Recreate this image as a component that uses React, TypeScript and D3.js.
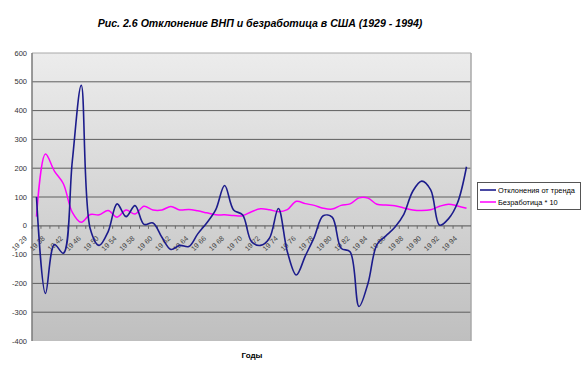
import React from 'react';
import * as d3 from 'd3';

// годы (ранние годы идут с пропусками, с 1958 подряд)
const years = [
  1929, 1933, 1938, 1940, 1942, 1944, 1946, 1948, 1950, 1952, 1954, 1956, 1958,
  1959, 1960, 1961, 1962, 1963, 1964, 1965, 1966, 1967, 1968, 1969, 1970, 1971,
  1972, 1973, 1974, 1975, 1976, 1977, 1978, 1979, 1980, 1981, 1982, 1983, 1984,
  1985, 1986, 1987, 1988, 1989, 1990, 1991, 1992, 1993, 1994,
];

// Отклонения от тренда
const gnpDeviation = [
  100, -235, -65, -95, 225, 488, -10, -68, -20, 76, 32, 70, 5,
  10, -40, -82, -68, -72, -28, 10, 55, 140, 55, 38, -55, -68,
  -43, 60, -90, -171, -105, -40, 35, 30, -78, -90, -280, -200, -65,
  -35, -5, 40, 120, 155, 125, 2, 25, 80, 205,
];

// Безработица * 10
const unemployment = [
  32, 249, 190, 146, 47, 12, 39, 38, 53, 30, 55, 41, 68,
  55, 55, 67, 55, 57, 52, 45, 38, 38, 36, 35, 49, 59,
  56, 49, 56, 85, 77, 71, 61, 58, 71, 76, 97, 96, 75,
  72, 70, 62, 55, 53, 56, 68, 75, 69, 61,
];

const yTicks = [600, 500, 400, 300, 200, 100, 0, -100, -200, -300, -400];

const W = 585;
const H = 372;
const plot = { left: 32, right: 471, top: 53, bottom: 341 };
const font = '"Liberation Sans", Arial, sans-serif';

export default function App() {
  const x = d3.scaleBand<number>().domain(years).range([plot.left, plot.right]);
  const y = d3.scaleLinear().domain([-400, 600]).range([plot.bottom, plot.top]);
  const cx = (yr: number) => (x(yr) as number) + x.bandwidth() / 2;

  const line = d3
    .line<number>()
    .x((_, i) => cx(years[i]))
    .y((d) => y(d))
    .curve(d3.curveCatmullRom.alpha(0.5));

  const y0 = y(0);

  return (
    <svg width={W} height={H} style={{ position: 'absolute', left: 0, top: 0 }} fontFamily={font}>
      <defs>
        <linearGradient id="bg" x1="0" y1="0" x2="0" y2="1">
          <stop offset="0%" stopColor="#ececec" />
          <stop offset="100%" stopColor="#bfbfbf" />
        </linearGradient>
      </defs>
      <rect x={0} y={0} width={W} height={H} fill="#fff" />

      <text x={260} y={27} textAnchor="middle" fontSize={10.6} fontWeight="bold" fontStyle="italic" fill="#000">
        Рис. 2.6 Отклонение ВНП и безработица в США (1929 - 1994)
      </text>

      <rect x={plot.left} y={plot.top} width={plot.right - plot.left} height={plot.bottom - plot.top} fill="url(#bg)" />

      {yTicks.filter((t) => t !== 0 && t !== 600 && t !== -400).map((t) => (
        <line key={t} x1={plot.left} x2={plot.right} y1={y(t)} y2={y(t)} stroke="#5e5e5e" strokeWidth={1} />
      ))}
      <line x1={plot.left} x2={plot.right} y1={plot.top} y2={plot.top} stroke="#a8a8a8" />
      <line x1={plot.right} x2={plot.right} y1={plot.top} y2={plot.bottom} stroke="#a8a8a8" strokeWidth={1.5} />
      <line x1={plot.left} x2={plot.left} y1={plot.top} y2={plot.bottom} stroke="#7a7a7a" strokeWidth={1.5} />

      {yTicks.map((t) => (
        <text key={t} x={27} y={y(t)} dy="0.35em" textAnchor="end" fontSize={7.5} fill="#333">
          {t}
        </text>
      ))}

      {/* ось X на нуле */}
      <line x1={plot.left} x2={plot.right} y1={y0} y2={y0} stroke="#6a6a6a" strokeWidth={1.2} />
      {years.map((yr) => (
        <line key={yr} x1={x(yr)} x2={x(yr)} y1={y0} y2={y0 + 3} stroke="#6a6a6a" />
      ))}
      {years.filter((_, i) => i % 2 === 0).map((yr) => {
        const s = String(yr);
        return (
          <text
            key={yr}
            transform={`translate(${cx(yr) - 9},${y0 + 13}) rotate(-45)`}
            textAnchor="end"
            fontSize={7.2}
            fill="#444"
          >
            <tspan>{s.slice(0, 2)}</tspan>
            <tspan dx={2}>{s.slice(2)}</tspan>
          </text>
        );
      })}

      <path d={line(unemployment) ?? ''} fill="none" stroke="#ff00ff" strokeWidth={1.5} />
      <path d={line(gnpDeviation) ?? ''} fill="none" stroke="#1c1c8c" strokeWidth={1.6} />

      <text x={252} y={358} textAnchor="middle" fontSize={8} fontWeight="bold" fill="#000">
        Годы
      </text>

      {/* легенда */}
      <rect x={477.5} y={182.5} width={103} height={27} fill="#fff" stroke="#555" />
      <line x1={480} x2={496} y1={190} y2={190} stroke="#1c1c8c" strokeWidth={1.6} />
      <text x={498} y={190} dy="0.35em" fontSize={7.4} fill="#000">Отклонения от тренда</text>
      <line x1={480} x2={496} y1={202} y2={202} stroke="#ff00ff" strokeWidth={1.5} />
      <text x={498} y={202} dy="0.35em" fontSize={7.4} fill="#000">Безработица * 10</text>
    </svg>
  );
}
